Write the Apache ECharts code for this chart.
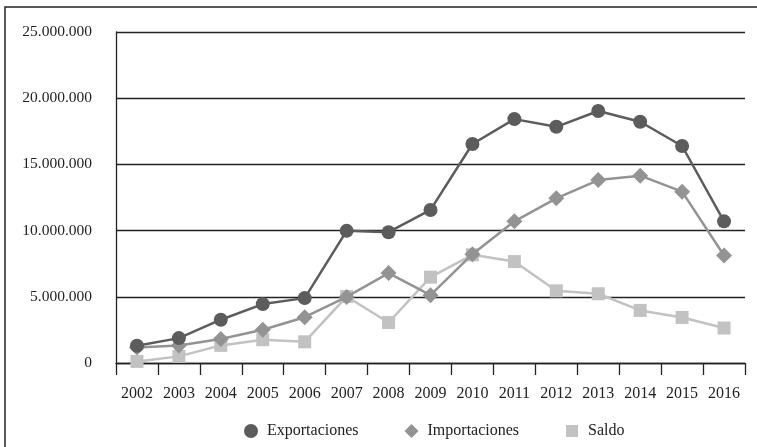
<!DOCTYPE html>
<html>
<head>
<meta charset="utf-8">
<script src="https://cdn.jsdelivr.net/npm/echarts@6/dist/echarts.min.js"></script>
<style>
html,body{margin:0;padding:0;background:#fff;}
#c{width:757px;height:447px;}
</style>
</head>
<body>
<div id="c"></div>
<script>
const years = ['2002','2003','2004','2005','2006','2007','2008','2009','2010','2011','2012','2013','2014','2015','2016'];
const exportaciones = [1300000,1880000,3270000,4450000,4900000,9980000,9880000,11560000,16540000,18420000,17840000,19030000,18220000,16390000,10700000];
const importaciones = [1180000,1330000,1810000,2510000,3460000,4990000,6790000,5120000,8220000,10700000,12440000,13820000,14150000,12940000,8120000];
const saldo = [120000,500000,1330000,1760000,1600000,5020000,3060000,6480000,8170000,7660000,5450000,5230000,3970000,3440000,2640000];
const seriesNames = ['Exportaciones','Importaciones','Saldo'];

const fontFam = '"Liberation Serif", "DejaVu Serif", serif';
const fmt = v => String(Math.round(v)).replace(/\B(?=(\d{3})+(?!\d))/g, '.');

const chart = echarts.init(document.getElementById('c'), null, {renderer:'canvas'});
chart.setOption({
  animation:false,
  backgroundColor:'#fff',
  textStyle:{fontFamily:fontFam},
  graphic:[{
    type:'rect', silent:true, z:-1,
    shape:{x:5,y:7,width:900,height:600},
    style:{fill:'none',stroke:'#222',lineWidth:1.5}
  }],
  grid:{left:116,right:12,top:32,bottom:84,containLabel:false},
  legend:{
    left:239, top:418,
    itemWidth:22, itemHeight:14, itemGap:42, symbolKeepAspect:true,
    textStyle:{fontFamily:fontFam,fontSize:16,color:'#222'},
    data:[
      {name:seriesNames[0],icon:'circle'},
      {name:seriesNames[1],icon:'path://M0,7L0,7ZM22,7L22,7ZM11,0L18,7L11,14L4,7Z'},
      {name:seriesNames[2],icon:'path://M0,7L0,7ZM22,7L22,7ZM5,1L17,1L17,13L5,13Z'}
    ]
  },
  xAxis:{
    type:'category', data:years, boundaryGap:true,
    axisLine:{show:true,lineStyle:{color:'#222',width:1.3}},
    axisTick:{show:true,alignWithLabel:false,length:12,lineStyle:{color:'#222',width:1.3}},
    axisLabel:{color:'#222',fontSize:16,fontFamily:fontFam,margin:23,interval:0},
    splitLine:{show:false}
  },
  yAxis:{
    type:'value', min:0, max:25000000, interval:5000000,
    axisLine:{show:true,lineStyle:{color:'#222',width:1.3}},
    axisTick:{show:false},
    axisLabel:{color:'#222',fontSize:15.5,fontFamily:fontFam,margin:24,formatter:fmt},
    splitLine:{show:true,lineStyle:{color:'#222',width:1.3}}
  },
  series:[
    {name:seriesNames[0],type:'line',data:exportaciones,symbol:'circle',symbolSize:14,
     lineStyle:{color:'#5c5c5c',width:2.5},itemStyle:{color:'#5c5c5c'},z:4},
    {name:seriesNames[1],type:'line',data:importaciones,symbol:'diamond',symbolSize:16,
     lineStyle:{color:'#939393',width:2.5},itemStyle:{color:'#939393'},z:3},
    {name:seriesNames[2],type:'line',data:saldo,symbol:'rect',symbolSize:13,
     lineStyle:{color:'#c2c2c2',width:2.5},itemStyle:{color:'#c2c2c2'},z:2}
  ]
});
</script>
</body>
</html>
